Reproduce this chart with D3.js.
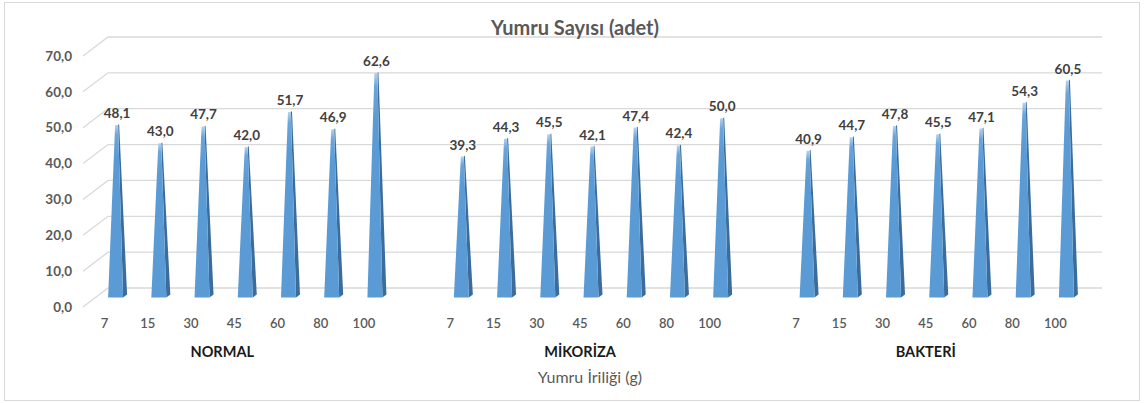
<!DOCTYPE html>
<html>
<head>
  <meta charset="utf-8">
  <title>Yumru Sayısı</title>
  <script src="https://cdn.jsdelivr.net/npm/d3@7"></script>
  <style>
    html, body { margin: 0; padding: 0; background: #fff; }
    svg { display: block; font-family: Lato, "Open Sans", sans-serif; }
  </style>
</head>
<body>
<svg id="chart" width="1144" height="403"></svg>
<script>
  // values
  var groups = ['NORMAL', 'MİKORİZA', 'BAKTERİ'];
  var sizes = ['7', '15', '30', '45', '60', '80', '100'];
  var normalValues = [48.1, 43.0, 47.7, 42.0, 51.7, 46.9, 62.6];
  var mikorizaValues = [39.3, 44.3, 45.5, 42.1, 47.4, 42.4, 50.0];
  var bakteriValues = [40.9, 44.7, 47.8, 45.5, 47.1, 54.3, 60.5];
  var yTicks = [0, 10, 20, 30, 40, 50, 60, 70];

  var seriesByGroup = [normalValues, mikorizaValues, bakteriValues];

  var svg = d3.select('#chart');

  var trFormat = d3.formatLocale({decimal: ',', thousands: '.', grouping: [3], currency: ['', '']}).format('.1f');

  // back wall of the 3d plot, depth offset toward the viewer
  var depth = {x: -25, y: 19};
  var mid = {x: depth.x / 2, y: depth.y / 2};

  // slots: 7 bars per group with an empty slot between groups
  var keys = [];
  groups.forEach(function(g, gi) {
    if (gi > 0) keys.push('gap' + gi);
    sizes.forEach(function(s) { keys.push(g + '|' + s); });
  });

  var x = d3.scaleBand().domain(keys).range([108, 1102]).paddingInner(0).paddingOuter(0);
  var y = d3.scaleLinear().domain([0, 70]).range([288, 37]);

  var data = [];
  groups.forEach(function(g, gi) {
    sizes.forEach(function(s, si) {
      data.push({group: g, size: s, key: g + '|' + s, value: seriesByGroup[gi][si]});
    });
  });

  // outer frame
  svg.append('rect')
    .attr('x', 4.5).attr('y', 2.5)
    .attr('width', 1135).attr('height', 398)
    .attr('fill', '#fff')
    .attr('stroke', '#d9d9d9')
    .attr('stroke-width', 1);

  var defs = svg.append('defs');
  var grad = defs.append('linearGradient').attr('id', 'frontGrad')
    .attr('x1', 0).attr('y1', 0).attr('x2', 0).attr('y2', 1);
  grad.append('stop').attr('offset', 0).attr('stop-color', '#b7d3ee');
  grad.append('stop').attr('offset', 0.06).attr('stop-color', '#6aa5db');
  grad.append('stop').attr('offset', 0.2).attr('stop-color', '#5b9bd5');
  grad.append('stop').attr('offset', 1).attr('stop-color', '#5b9bd5');

  // gridlines: side wall diagonal + back wall horizontal
  var grid = svg.append('g').attr('class', 'grid');
  yTicks.forEach(function(t) {
    var yb = y(t);
    grid.append('path')
      .attr('d', 'M' + (x.range()[0] + depth.x) + ',' + (yb + depth.y) +
                 'L' + x.range()[0] + ',' + yb +
                 'L' + x.range()[1] + ',' + yb)
      .attr('fill', 'none')
      .attr('stroke', '#d9d9d9')
      .attr('stroke-width', 1.3);
  });

  // y tick labels (front edge of side wall)
  svg.append('g').selectAll('text')
    .data(yTicks)
    .join('text')
      .attr('x', 72)
      .attr('y', function(d) { return y(d) + depth.y; })
      .attr('dy', '0.35em')
      .attr('text-anchor', 'end')
      .attr('font-size', 13.5)
      .attr('font-weight', 'bold')
      .attr('fill', '#595959')
      .text(trFormat);

  // pyramids
  var bars = svg.append('g').attr('class', 'bars')
    .selectAll('g')
    .data(data)
    .join('g');

  bars.each(function(d) {
    var g = d3.select(this);
    var cx = x(d.key) + x.bandwidth() / 2 + mid.x;
    var y0 = y(0) + mid.y;
    var yt = y(d.value) + mid.y;
    // right side face
    g.append('path')
      .attr('d', 'M' + (cx + 6) + ',' + y0 +
                 'L' + (cx + 10) + ',' + (y0 - 3) +
                 'L' + (cx + 2) + ',' + (yt - 1) +
                 'L' + (cx + 1) + ',' + yt + 'Z')
      .attr('fill', '#3b6c9c');
    // front face
    g.append('path')
      .attr('d', 'M' + (cx - 9) + ',' + y0 +
                 'L' + (cx + 6) + ',' + y0 +
                 'L' + (cx + 1) + ',' + yt +
                 'L' + (cx - 2) + ',' + yt + 'Z')
      .attr('fill', 'url(#frontGrad)');
    // data label
    g.append('text')
      .attr('x', cx)
      .attr('y', yt - 7)
      .attr('text-anchor', 'middle')
      .attr('font-size', 13.5)
      .attr('font-weight', 'bold')
      .attr('fill', '#404040')
      .text(trFormat(d.value));
  });

  // category tick labels (front plane)
  svg.append('g').selectAll('text')
    .data(data)
    .join('text')
      .attr('x', function(d) { return x(d.key) + x.bandwidth() / 2 + depth.x; })
      .attr('y', 323)
      .attr('dy', '0.35em')
      .attr('text-anchor', 'middle')
      .attr('font-size', 13)
      .attr('font-weight', 600)
      .attr('fill', '#595959')
      .text(function(d) { return d.size; });

  // group labels
  svg.append('g').selectAll('text')
    .data(groups)
    .join('text')
      .attr('x', function(g, i) {
        return x(g + '|' + sizes[3]) + x.bandwidth() / 2 + depth.x - (i === 0 ? 12 : 0);
      })
      .attr('y', 352)
      .attr('dy', '0.35em')
      .attr('text-anchor', 'middle')
      .attr('font-size', 14.5)
      .attr('font-weight', 'bold')
      .attr('fill', '#1a1a1a')
      .text(function(g) { return g; });

  // axis title
  svg.append('text')
    .attr('x', 590)
    .attr('y', 377)
    .attr('dy', '0.35em')
    .attr('text-anchor', 'middle')
    .attr('font-size', 16)
    .attr('fill', '#595959')
    .text('Yumru İriliği (g)');

  // chart title
  svg.append('text')
    .attr('x', 575)
    .attr('y', 28)
    .attr('dy', '0.35em')
    .attr('text-anchor', 'middle')
    .attr('font-size', 20)
    .attr('font-weight', 'bold')
    .attr('fill', '#595959')
    .text('Yumru Sayısı (adet)');
</script>
</body>
</html>
